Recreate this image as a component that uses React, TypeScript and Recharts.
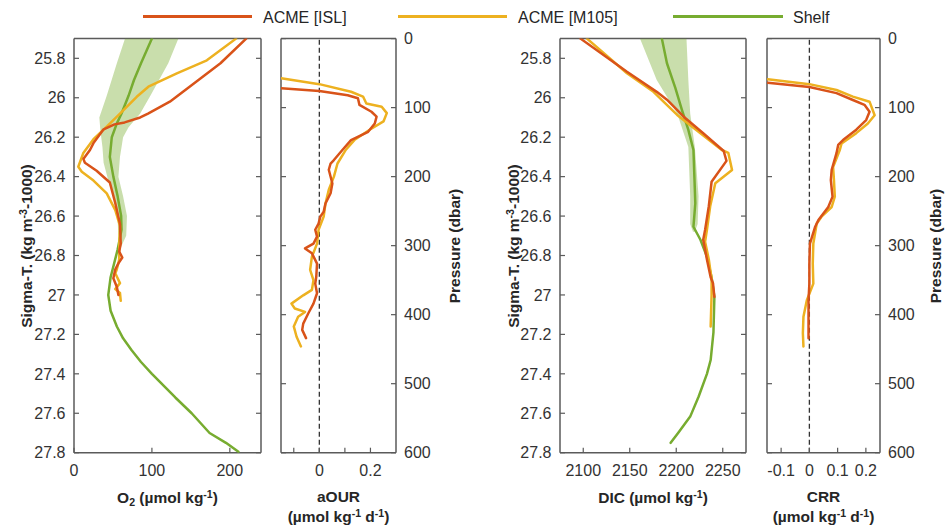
import React from 'react';
import { ScatterChart, Scatter, XAxis, YAxis, ReferenceLine } from 'recharts';

const W = 945;
const H = 528;
const TOP = 38.6;
const BOTTOM = 452.7;

const RED = '#D95319';
const ORANGE = '#EDB120';
const GREEN = '#77AC30';
const AXIS = '#5a5a5a';
const TEXT = '#262626';
const FONT = '"Liberation Sans", Arial, Helvetica, sans-serif';

// tick values
const sigmaTicks = [25.8, 26, 26.2, 26.4, 26.6, 26.8, 27, 27.2, 27.4, 27.6, 27.8];
const pressureTicks = [0, 100, 200, 300, 400, 500, 600];
const o2Ticks = [0, 100, 200];
const ourTicks = [-0.1, 0, 0.1, 0.2];
const dicTicks = [2100, 2150, 2200, 2250];
const crrTicks = [-0.1, 0, 0.1, 0.2];

// legend
const seriesNames = ['ACME [ISL]', 'ACME [M105]', 'Shelf'];

// O2 panel: [sigma-T, O2]
const o2Isl: [number, number][] = [
  [25.7, 221], [25.825, 188], [25.93, 153], [26.02, 123], [26.08, 95], [26.1, 85], [26.125, 65],
  [26.135, 52], [26.16, 38], [26.23, 25], [26.265, 20.5], [26.31, 12], [26.33, 14], [26.37, 29],
  [26.43, 46], [26.535, 53], [26.64, 59], [26.74, 60], [26.78, 58], [26.81, 62], [26.84, 57],
  [26.87, 53], [26.915, 50.5], [26.96, 55], [27.0, 57],
];
const o2M105: [number, number][] = [
  [25.7, 208], [25.81, 170.5], [25.876, 132], [25.944, 95.5], [25.995, 80.5], [26.08, 59],
  [26.146, 42], [26.21, 25], [26.28, 12], [26.35, 5.5], [26.375, 10], [26.42, 25], [26.485, 42],
  [26.57, 53], [26.65, 59], [26.77, 58], [26.82, 58], [26.87, 55], [26.89, 53], [26.94, 59],
  [26.97, 53], [26.99, 59], [27.03, 60],
];
const o2Shelf: [number, number][] = [
  [25.7, 100], [25.825, 86], [25.91, 77], [25.99, 70], [26.08, 61], [26.13, 55], [26.2, 48.5],
  [26.3, 46], [26.4, 50.5], [26.5, 56], [26.6, 60.5], [26.67, 61], [26.77, 56], [26.91, 47],
  [27.0, 44], [27.08, 47], [27.16, 55], [27.22, 63], [27.28, 74], [27.34, 86], [27.4, 100],
  [27.52, 130], [27.6, 151], [27.7, 174], [27.75, 195], [27.795, 211],
];
const o2ShelfLow: [number, number][] = [
  [25.7, 65.5], [25.825, 55], [25.99, 42], [26.1, 32.5], [26.17, 34], [26.25, 36.5], [26.33, 38],
  [26.42, 44], [26.5, 50], [26.6, 56], [26.74, 57], [26.76, 58.5],
];
const o2ShelfHigh: [number, number][] = [
  [25.7, 134], [25.825, 121], [25.99, 98], [26.08, 85], [26.15, 70], [26.2, 63], [26.3, 59],
  [26.4, 57], [26.5, 63], [26.6, 68], [26.7, 67], [26.76, 60],
];

// aOUR panel: [pressure, aOUR]
const ourIsl: [number, number][] = [
  [72, -0.149], [76, 0], [82, 0.111], [86.5, 0.151], [96, 0.157], [106, 0.204], [113, 0.224],
  [123, 0.217], [135, 0.191], [147, 0.124], [161, 0.091], [176, 0.057], [181, 0.044], [190, 0.037],
  [210, 0.051], [224, 0.044], [239, 0.024], [251, 0.017], [258, 0.004], [268, -0.003], [277, -0.016],
  [287, -0.009], [297, -0.023], [304, -0.056], [311, -0.029], [326, -0.009], [345, -0.012],
  [355, -0.016], [369, -0.009], [384, -0.023], [398, -0.043], [413, -0.063], [422, -0.067], [434, -0.052],
];
const ourM105: [number, number][] = [
  [57.5, -0.149], [66, 0], [77, 0.124], [84, 0.171], [94, 0.184], [98.7, 0.244], [108, 0.264],
  [120, 0.251], [132, 0.197], [147, 0.137], [161, 0.104], [181, 0.071], [200, 0.057], [219, 0.037],
  [239, 0.024], [258, 0.017], [277, -0.003], [297, -0.009], [316, -0.029], [335, -0.036],
  [350, -0.023], [364, -0.029], [372, -0.063], [384, -0.109], [391, -0.096], [396, -0.056],
  [403, -0.083], [417, -0.1], [432, -0.089], [446, -0.072],
];

// DIC panel: [sigma-T, DIC]
const dicIsl: [number, number][] = [
  [25.7, 2097], [25.868, 2147], [25.97, 2179], [26.01, 2190], [26.096, 2208], [26.18, 2229],
  [26.27, 2251], [26.32, 2254], [26.426, 2238], [26.55, 2235], [26.67, 2231], [26.72, 2229],
  [26.82, 2233], [26.91, 2237], [26.94, 2239.5], [27.01, 2241],
];
const dicM105: [number, number][] = [
  [25.7, 2104], [25.876, 2147], [25.97, 2175.5], [26.087, 2201], [26.18, 2226], [26.265, 2249],
  [26.28, 2256], [26.366, 2260], [26.434, 2242], [26.55, 2236.5], [26.67, 2233], [26.73, 2231],
  [26.82, 2235], [26.87, 2236.5], [26.916, 2238], [27.0, 2238], [27.16, 2237],
];
const dicShelf: [number, number][] = [
  [25.7, 2184.5], [25.825, 2190], [25.95, 2199], [26.06, 2206], [26.163, 2213], [26.265, 2218.5],
  [26.4, 2219.5], [26.535, 2220.5], [26.654, 2218.5], [26.72, 2226], [26.806, 2233], [26.91, 2238],
  [27.01, 2241], [27.19, 2240], [27.33, 2237], [27.4, 2233], [27.516, 2224], [27.617, 2215],
  [27.7, 2202], [27.75, 2194],
];
const dicShelfLow: [number, number][] = [
  [25.7, 2161], [25.91, 2179], [26.08, 2201], [26.25, 2213], [26.5, 2215], [26.64, 2215], [26.68, 2218],
];
const dicShelfHigh: [number, number][] = [
  [25.7, 2211], [25.91, 2213], [26.08, 2215], [26.25, 2220], [26.5, 2224], [26.64, 2223], [26.68, 2220],
];

// CRR panel: [pressure, CRR]
const crrIsl: [number, number][] = [
  [64, -0.147], [70, 0], [79, 0.096], [89, 0.154], [96, 0.195], [106, 0.213], [118, 0.201],
  [132, 0.166], [147, 0.119], [154, 0.102], [166, 0.096], [190, 0.079], [205, 0.076], [229, 0.082],
  [244, 0.067], [263, 0.032], [273, 0.02], [297, 0.002], [326, 0], [355, 0], [379, -0.003],
  [403, -0.003], [434, -0.003],
];
const crrM105: [number, number][] = [
  [59, -0.147], [66, 0], [74.5, 0.096], [84, 0.154], [91.4, 0.213], [111, 0.231], [123, 0.207],
  [137, 0.166], [152, 0.114], [161, 0.108], [186, 0.084], [205, 0.087], [229, 0.09], [244, 0.079],
  [258, 0.043], [268, 0.026], [297, 0.014], [326, 0.012], [355, 0.014], [379, -0.009], [403, -0.021],
  [427, -0.023], [446, -0.021],
];

const toPts = (arr: [number, number][]) => arr.map(([y, x]) => ({ x, y }));
const band = (lo: [number, number][], hi: [number, number][]) =>
  [...toPts(lo), ...toPts(hi).reverse()];

type S = { pts: { x: number; y: number }[]; color: string; fill?: boolean };

const Empty = () => <g />;

const tickStyle = { fontSize: 16, fill: '#333', fontFamily: FONT };

function Panel(props: {
  left: number;
  right: number;
  xDomain: [number, number];
  yDomain: [number, number];
  xTicks: number[];
  yTicks: number[];
  xFmt?: (v: number) => string;
  labelSide: 'left' | 'right';
  series: S[];
  zero?: boolean;
}) {
  const { left, right, xDomain, yDomain, xTicks, yTicks, xFmt, labelSide, series, zero } = props;
  const blank = () => '';
  const axisLine = { stroke: AXIS, strokeWidth: 1.5 };
  const tickLine = { stroke: AXIS, strokeWidth: 1.2 };
  return (
    <div style={{ position: 'absolute', left: 0, top: 0 }}>
      <ScatterChart
        width={W}
        height={H}
        margin={{ top: TOP - 1, bottom: H - BOTTOM - 1, left: left - 1, right: W - right - 1 }}
      >
        <XAxis
          xAxisId="b"
          type="number"
          dataKey="x"
          orientation="bottom"
          domain={xDomain}
          allowDataOverflow
          ticks={xTicks}
          interval={0}
          height={1}
          tickSize={-5}
          tickMargin={17}
          tickFormatter={xFmt}
          tick={tickStyle}
          stroke={AXIS}
          axisLine={axisLine}
          tickLine={tickLine}
        />
        <XAxis
          xAxisId="t"
          type="number"
          orientation="top"
          domain={xDomain}
          allowDataOverflow
          ticks={xTicks}
          interval={0}
          height={1}
          tickSize={-5}
          tickFormatter={blank}
          stroke={AXIS}
          axisLine={axisLine}
          tickLine={tickLine}
        />
        <YAxis
          yAxisId="l"
          type="number"
          dataKey="y"
          orientation="left"
          domain={yDomain}
          reversed
          allowDataOverflow
          ticks={yTicks}
          interval={0}
          width={1}
          tickSize={-5}
          tickMargin={13.5}
          tickFormatter={labelSide === 'left' ? undefined : blank}
          tick={tickStyle}
          stroke={AXIS}
          axisLine={axisLine}
          tickLine={tickLine}
        />
        <YAxis
          yAxisId="r"
          type="number"
          orientation="right"
          domain={yDomain}
          reversed
          allowDataOverflow
          ticks={yTicks}
          interval={0}
          width={1}
          tickSize={-5}
          tickMargin={13}
          tickFormatter={labelSide === 'right' ? undefined : blank}
          tick={tickStyle}
          stroke={AXIS}
          axisLine={axisLine}
          tickLine={tickLine}
        />
        {zero && (
          <ReferenceLine
            xAxisId="b"
            yAxisId="l"
            x={0}
            stroke="#333"
            strokeWidth={1.3}
            strokeDasharray="5 3"
          />
        )}
        {series.map((s, i) => (
          <Scatter
            key={i}
            xAxisId="b"
            yAxisId="l"
            data={s.pts}
            shape={Empty}
            isAnimationActive={false}
            line={
              s.fill
                ? { stroke: 'none', fill: s.color, fillOpacity: 0.4 }
                : { stroke: s.color, strokeWidth: 2.5, strokeLinejoin: 'round', strokeLinecap: 'round' }
            }
          />
        ))}
      </ScatterChart>
    </div>
  );
}

const ourFmt = (v: number) => (v === 0 || v === 0.2 ? String(v) : '');

const titleStyle: React.CSSProperties = {
  position: 'absolute',
  fontWeight: 'bold',
  fontSize: 15.5,
  color: TEXT,
  whiteSpace: 'nowrap',
  transform: 'translate(-50%, -50%)',
  lineHeight: '20px',
  textAlign: 'center',
};
const rotStyle: React.CSSProperties = {
  ...titleStyle,
  transform: 'translate(-50%, -50%) rotate(-90deg)',
};
const sup: React.CSSProperties = { fontSize: '0.68em', verticalAlign: '0.45em', lineHeight: 0 };
const sub: React.CSSProperties = { fontSize: '0.68em', verticalAlign: '-0.3em', lineHeight: 0 };

const legendColors = [RED, ORANGE, GREEN];
const legendLine = [
  [143, 252],
  [398, 507],
  [673, 783],
];
const legendText = [263, 518, 793];

export default function App() {
  return (
    <div
      style={{
        position: 'absolute',
        left: 0,
        top: 0,
        width: W,
        height: H,
        background: '#fff',
        fontFamily: FONT,
        overflow: 'hidden',
      }}
    >
      <Panel
        left={74}
        right={261}
        xDomain={[0, 240]}
        yDomain={[25.7, 27.8]}
        xTicks={o2Ticks}
        yTicks={sigmaTicks}
        labelSide="left"
        series={[
          { pts: band(o2ShelfLow, o2ShelfHigh), color: GREEN, fill: true },
          { pts: toPts(o2Shelf), color: GREEN },
          { pts: toPts(o2M105), color: ORANGE },
          { pts: toPts(o2Isl), color: RED },
        ]}
      />
      <Panel
        left={281}
        right={396}
        xDomain={[-0.15, 0.3]}
        yDomain={[0, 600]}
        xTicks={ourTicks}
        yTicks={pressureTicks}
        xFmt={ourFmt}
        labelSide="right"
        zero
        series={[
          { pts: toPts(ourM105), color: ORANGE },
          { pts: toPts(ourIsl), color: RED },
        ]}
      />
      <Panel
        left={560}
        right={746}
        xDomain={[2075, 2275]}
        yDomain={[25.7, 27.8]}
        xTicks={dicTicks}
        yTicks={sigmaTicks}
        labelSide="left"
        series={[
          { pts: band(dicShelfLow, dicShelfHigh), color: GREEN, fill: true },
          { pts: toPts(dicShelf), color: GREEN },
          { pts: toPts(dicM105), color: ORANGE },
          { pts: toPts(dicIsl), color: RED },
        ]}
      />
      <Panel
        left={767}
        right={880}
        xDomain={[-0.15, 0.25]}
        yDomain={[0, 600]}
        xTicks={crrTicks}
        yTicks={pressureTicks}
        labelSide="right"
        zero
        series={[
          { pts: toPts(crrM105), color: ORANGE },
          { pts: toPts(crrIsl), color: RED },
        ]}
      />

      {/* legend */}
      {seriesNames.map((name, i) => (
        <React.Fragment key={name}>
          <div
            style={{
              position: 'absolute',
              left: legendLine[i][0],
              top: 15.2,
              width: legendLine[i][1] - legendLine[i][0],
              height: 2.6,
              background: legendColors[i],
            }}
          />
          <div
            style={{
              position: 'absolute',
              left: legendText[i],
              top: 8,
              fontSize: 16,
              lineHeight: '20px',
              color: TEXT,
              whiteSpace: 'nowrap',
            }}
          >
            {name}
          </div>
        </React.Fragment>
      ))}

      {/* axis titles */}
      <div style={{ ...rotStyle, left: 27, top: 245.6 }}>
        Sigma-T. (kg m<span style={sup}>-3</span>-1000)
      </div>
      <div style={{ ...rotStyle, left: 514, top: 245.6 }}>
        Sigma-T. (kg m<span style={sup}>-3</span>-1000)
      </div>
      <div style={{ ...rotStyle, left: 455, top: 245.6 }}>Pressure (dbar)</div>
      <div style={{ ...rotStyle, left: 936, top: 245.6 }}>Pressure (dbar)</div>

      <div style={{ ...titleStyle, left: 167.5, top: 498 }}>
        O<span style={sub}>2</span> (µmol kg<span style={sup}>-1</span>)
      </div>
      <div style={{ ...titleStyle, left: 338.5, top: 507 }}>
        aOUR
        <br />
        (µmol kg<span style={sup}>-1</span> d<span style={sup}>-1</span>)
      </div>
      <div style={{ ...titleStyle, left: 653, top: 498 }}>
        DIC (µmol kg<span style={sup}>-1</span>)
      </div>
      <div style={{ ...titleStyle, left: 823.5, top: 507 }}>
        CRR
        <br />
        (µmol kg<span style={sup}>-1</span> d<span style={sup}>-1</span>)
      </div>
    </div>
  );
}
